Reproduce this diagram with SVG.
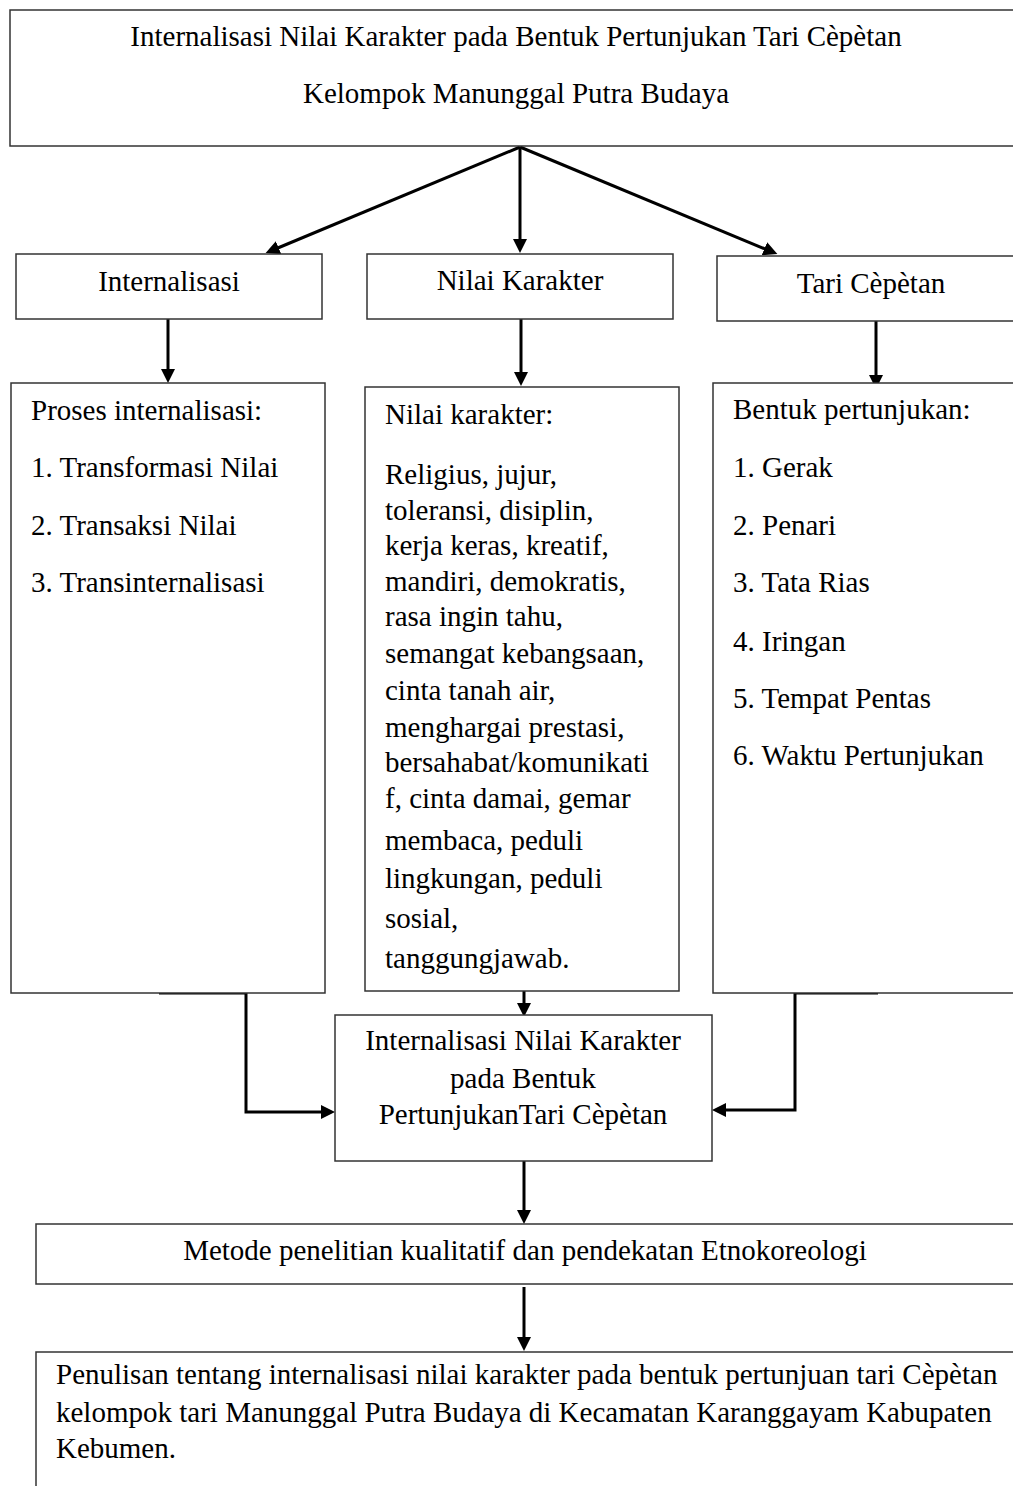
<svg xmlns="http://www.w3.org/2000/svg" width="1013" height="1486" viewBox="0 0 1013 1486">
<style>
.box{fill:#fff;stroke:#333;stroke-width:1.5}
.t{font-family:"Liberation Serif","Times New Roman",serif;font-size:29px;fill:#000}
.c{text-anchor:middle}
.ln{fill:none;stroke:#000;stroke-width:3}
</style>
<defs>
<marker id="ah" markerUnits="userSpaceOnUse" markerWidth="14" markerHeight="14" refX="6" refY="7" orient="auto" viewBox="0 0 14 14">
<path d="M0,0 L14,7 L0,14 z" fill="#000"/>
</marker>
</defs>
<rect width="1013" height="1486" fill="#fff"/>

<g id="connectors">
<line class="ln" x1="520" y1="147" x2="273" y2="250" marker-end="url(#ah)"/>
<line class="ln" x1="520" y1="147" x2="520" y2="245" marker-end="url(#ah)"/>
<line class="ln" x1="520" y1="147" x2="770" y2="251" marker-end="url(#ah)"/>
<line class="ln" x1="168" y1="319" x2="168" y2="375" marker-end="url(#ah)"/>
<line class="ln" x1="521" y1="319" x2="521" y2="378" marker-end="url(#ah)"/>
<line class="ln" x1="876" y1="321" x2="876" y2="381" marker-end="url(#ah)"/>
<path class="ln" d="M159,993 H246 V1112 H327" marker-end="url(#ah)"/>
<path class="ln" d="M878,993 H795 V1110 H720" marker-end="url(#ah)"/>
<line class="ln" x1="524" y1="991" x2="524" y2="1009" marker-end="url(#ah)"/>
<line class="ln" x1="524" y1="1161" x2="524" y2="1216" marker-end="url(#ah)"/>
<line class="ln" x1="524" y1="1287" x2="524" y2="1343" marker-end="url(#ah)"/>
</g>

<g id="node-title">
<rect class="box" x="10" y="10" width="1030" height="136"/>
<text class="t c" x="516" y="46">Internalisasi Nilai Karakter pada Bentuk Pertunjukan Tari Cèpètan</text>
<text class="t c" x="516" y="103">Kelompok Manunggal Putra Budaya</text>
</g>

<g id="node-internalisasi">
<rect class="box" x="16" y="254" width="306" height="65"/>
<text class="t c" x="169" y="291">Internalisasi</text>
</g>

<g id="node-nilai-karakter">
<rect class="box" x="367" y="254" width="306" height="65"/>
<text class="t c" x="520" y="290">Nilai Karakter</text>
</g>

<g id="node-tari-cepetan">
<rect class="box" x="717" y="256" width="320" height="65"/>
<text class="t c" x="871" y="293">Tari Cèpètan</text>
</g>

<g id="node-proses">
<rect class="box" x="11" y="383" width="314" height="610"/>
<text class="t" x="31" y="420">Proses internalisasi:</text>
<text class="t" x="31" y="477">1. Transformasi Nilai</text>
<text class="t" x="31" y="535">2. Transaksi Nilai</text>
<text class="t" x="31" y="592">3. Transinternalisasi</text>
</g>

<g id="node-nilai-list">
<rect class="box" x="365" y="387" width="314" height="604"/>
<text class="t" x="385" y="424">Nilai karakter:</text>
<text class="t" x="385" y="484">Religius, jujur,</text>
<text class="t" x="385" y="520">toleransi, disiplin,</text>
<text class="t" x="385" y="555">kerja keras, kreatif,</text>
<text class="t" x="385" y="591">mandiri, demokratis,</text>
<text class="t" x="385" y="626">rasa ingin tahu,</text>
<text class="t" x="385" y="663">semangat kebangsaan,</text>
<text class="t" x="385" y="700">cinta tanah air,</text>
<text class="t" x="385" y="737">menghargai prestasi,</text>
<text class="t" x="385" y="772">bersahabat/komunikati</text>
<text class="t" x="385" y="808">f, cinta damai, gemar</text>
<text class="t" x="385" y="850">membaca, peduli</text>
<text class="t" x="385" y="888">lingkungan, peduli</text>
<text class="t" x="385" y="928">sosial,</text>
<text class="t" x="385" y="968">tanggungjawab.</text>
</g>

<g id="node-bentuk">
<rect class="box" x="713" y="383" width="320" height="610"/>
<text class="t" x="733" y="419">Bentuk pertunjukan:</text>
<text class="t" x="733" y="477">1. Gerak</text>
<text class="t" x="733" y="535">2. Penari</text>
<text class="t" x="733" y="592">3. Tata Rias</text>
<text class="t" x="733" y="651">4. Iringan</text>
<text class="t" x="733" y="708">5. Tempat Pentas</text>
<text class="t" x="733" y="765">6. Waktu Pertunjukan</text>
</g>

<g id="node-internalisasi-bentuk">
<rect class="box" x="335" y="1015" width="377" height="146"/>
<text class="t c" x="523" y="1050">Internalisasi Nilai Karakter</text>
<text class="t c" x="523" y="1088">pada Bentuk</text>
<text class="t c" x="523" y="1124">PertunjukanTari Cèpètan</text>
</g>

<g id="node-metode">
<rect class="box" x="36" y="1224" width="1000" height="60"/>
<text class="t c" x="525" y="1260">Metode penelitian kualitatif dan pendekatan Etnokoreologi</text>
</g>

<g id="node-penulisan">
<rect class="box" x="36" y="1352" width="1000" height="160"/>
<text class="t" x="56" y="1384">Penulisan tentang internalisasi nilai karakter pada bentuk pertunjuan tari Cèpètan</text>
<text class="t" x="56" y="1422">kelompok tari Manunggal Putra Budaya di Kecamatan Karanggayam Kabupaten</text>
<text class="t" x="56" y="1458">Kebumen.</text>
</g>
</svg>
